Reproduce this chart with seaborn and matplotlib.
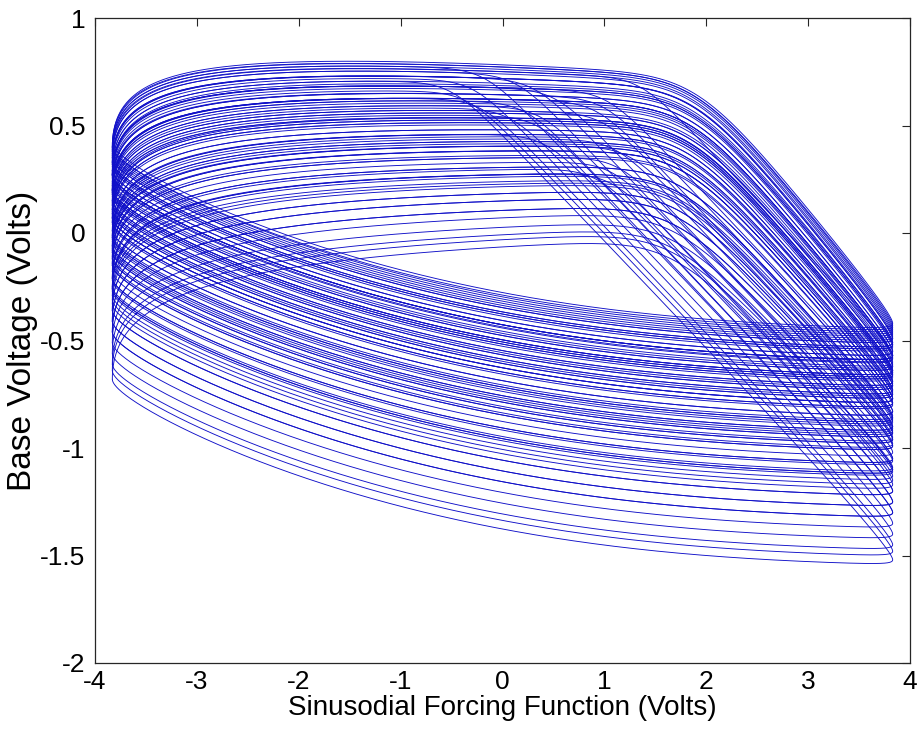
import numpy as np
import pandas as pd
import matplotlib
matplotlib.use("Agg")
import matplotlib.pyplot as plt
import seaborn as sns
from matplotlib.ticker import FormatStrFormatter

# Peak of the sinusoidal forcing (volts)
AMPLITUDE = 3.83

# One entry per forcing period: base voltage where the rising sweep starts
# (left end), level of its upper plateau, forcing value where the plateau
# breaks down, and base voltage reached at the right end of the sweep.
LEFT_START = [0.38, -0.46, -0.15, -0.21, 0.01, 0.15, -0.36, -0.09, -0.11, 0.07,
              0.19, -0.61, -0.25, -0.31, -0.06, 0.11, 0.22, -0.01, 0.14, -0.51,
              -0.18, -0.26, -0.02, 0.13, 0.23, 0.29, -0.68, -0.29, -0.04, -0.14,
              0.05, 0.18, -0.41, -0.12, 0.07, 0.20, 0.27, 0.04, 0.17, 0.255,
              0.31, -0.56, -0.22, -0.36, -0.09, 0.09, 0.20, -0.06, 0.11, 0.22,
              0.29, 0.33, -0.26, -0.02, -0.46, -0.15, 0.05, 0.18, 0.26, -0.21,
              0.01, 0.15, 0.24, -0.64, -0.27, -0.03, 0.13, -0.08, 0.09, 0.20,
              0.27, 0.32, 0.35, -0.33, -0.07, 0.10, -0.41, -0.12, 0.07, 0.19,
              0.27, 0.32, 0.35, 0.37, 0.27, 0.33, 0.36, 0.38, 0.39, 0.40,
              0.40]
PLATEAU = [0.77, 0.17, 0.39, 0.35, 0.51, 0.61, 0.24, 0.44, 0.42, 0.55,
           0.64, 0.07, 0.32, 0.28, 0.46, 0.58, 0.66, 0.49, 0.60, 0.14,
           0.37, 0.32, 0.49, 0.59, 0.66, 0.71, 0.02, 0.29, 0.47, 0.40,
           0.54, 0.63, 0.21, 0.42, 0.56, 0.64, 0.69, 0.53, 0.62, 0.68,
           0.72, 0.10, 0.34, 0.24, 0.44, 0.56, 0.64, 0.46, 0.58, 0.66,
           0.71, 0.73, 0.32, 0.49, 0.17, 0.39, 0.54, 0.63, 0.69, 0.35,
           0.51, 0.61, 0.67, 0.05, 0.31, 0.48, 0.59, 0.44, 0.56, 0.64,
           0.69, 0.73, 0.75, 0.27, 0.45, 0.57, 0.21, 0.42, 0.55, 0.64,
           0.69, 0.73, 0.75, 0.76, 0.70, 0.73, 0.76, 0.77, 0.78, 0.78,
           0.79]
KNEE_X = [-0.18, 1.68, 1.13, 1.74, 1.80, 0.37, 1.71, 1.24, 1.77, 1.81,
          -0.21, 1.64, 1.06, 1.72, 1.78, 1.82, 0.99, 1.79, 0.07, 1.67,
          1.06, 1.73, 1.79, 1.83, 1.85, -0.51, 1.63, 1.72, 1.10, 1.76,
          1.81, 0.22, 1.69, 1.77, 1.81, 1.84, 1.02, 1.80, 1.84, 1.86,
          -0.29, 1.66, 0.91, 1.71, 1.77, 1.82, 0.92, 1.78, 1.82, 1.85,
          1.87, 0.31, 1.73, 0.41, 1.68, 1.76, 1.81, 1.84, 0.52, 1.74,
          1.80, 1.83, -0.35, 1.64, 1.73, 1.79, 0.98, 1.77, 1.82, 1.84,
          1.86, 1.87, 0.13, 1.71, 1.78, 0.34, 1.69, 1.77, 1.81, 1.84,
          1.86, 1.87, 1.88, 1.35, 1.86, 1.88, 1.88, 1.89, 1.89, 1.89,
          1.90]
RIGHT_END = [-1.30, -0.99, -1.05, -0.83, -0.69, -1.20, -0.93, -0.95, -0.77, -0.65,
             -1.45, -1.09, -1.15, -0.90, -0.73, -0.62, -0.85, -0.70, -1.35, -1.02,
             -1.10, -0.86, -0.71, -0.61, -0.55, -1.52, -1.13, -0.88, -0.98, -0.79,
             -0.66, -1.25, -0.96, -0.77, -0.64, -0.57, -0.80, -0.67, -0.585, -0.53,
             -1.40, -1.06, -1.20, -0.93, -0.75, -0.64, -0.90, -0.73, -0.62, -0.55,
             -0.51, -1.10, -0.86, -1.30, -0.99, -0.79, -0.66, -0.58, -1.05, -0.83,
             -0.69, -0.60, -1.48, -1.11, -0.87, -0.71, -0.92, -0.75, -0.64, -0.57,
             -0.52, -0.49, -1.17, -0.91, -0.74, -1.25, -0.96, -0.77, -0.65, -0.57,
             -0.52, -0.49, -0.47, -0.57, -0.51, -0.48, -0.46, -0.45, -0.44, -0.43,
             -0.42]
FINAL_LEFT = 0.42

X_TICKS = [-4, -3, -2, -1, 0, 1, 2, 3, 4]
Y_TICKS = [-2, -1.5, -1, -0.5, 0, 0.5, 1]

N = 700


def rising_sweep(y_left, plateau, knee, y_right):
    th = np.linspace(0.0, np.pi, N)
    x = -AMPLITUDE * np.cos(th)
    level = plateau * (1.1 - 0.038 * (x + 2.2))
    tau = 0.75 - 0.28 * plateau
    y = level - (level - y_left) * np.exp(-th / tau)
    lam = 0.08
    width = 0.28 if knee > 1.5 else 0.15
    xi = x + lam * AMPLITUDE * th
    th_k = np.arccos(-knee / AMPLITUDE)
    xi_k = knee + lam * AMPLITUDE * th_k
    g = width * np.logaddexp(0.0, (xi - xi_k) / width)
    y = y - (y[-1] - y_right) * g / g[-1]
    speed = (y[-2] - y[-1]) / (th[-1] - th[-2])
    return x, y, speed


def falling_sweep(y_right, y_next, speed):
    ph = np.linspace(0.0, np.pi, N)
    x = AMPLITUDE * np.cos(ph)
    t = (1.0 - np.cos(ph)) / 2.0
    q = 0.75 * t ** 2.4 + 0.25 * (ph / np.pi) ** 3
    y = y_right + (y_next - y_right) * q - speed * ph * np.exp(-ph / 0.35)
    return x, y


frames = []
for i in range(len(PLATEAU)):
    y_next = LEFT_START[i + 1] if i + 1 < len(LEFT_START) else FINAL_LEFT
    xu, yu, v = rising_sweep(LEFT_START[i], PLATEAU[i], KNEE_X[i], RIGHT_END[i])
    xl, yl = falling_sweep(RIGHT_END[i], y_next, v)
    frames.append(pd.DataFrame({
        "forcing": np.concatenate([xu, xl[1:]]),
        "base": np.concatenate([yu, yl[1:]]),
        "period": i,
    }))
trace = pd.concat(frames, ignore_index=True)

sns.set_theme(style="white")
plt.rcParams["font.family"] = ["Liberation Sans", "DejaVu Sans"]
plt.rcParams["axes.unicode_minus"] = False

fig = plt.figure(figsize=(9.2, 7.29), dpi=100)
ax = fig.add_axes([95 / 920, 66 / 729, 815 / 920, 645 / 729])

sns.lineplot(data=trace, x="forcing", y="base", units="period", estimator=None,
             sort=False, color="#1010c8", linewidth=0.65, ax=ax, legend=False)

ax.set_xlim(-4, 4)
ax.set_ylim(-2, 1)
ax.set_xticks(X_TICKS)
ax.set_yticks(Y_TICKS)
ax.xaxis.set_major_formatter(FormatStrFormatter("%g"))
ax.yaxis.set_major_formatter(FormatStrFormatter("%g"))
ax.tick_params(direction="in", length=6, width=0.8, color="#262626",
               top=True, right=True, labelsize=19, labelcolor="black")
ax.tick_params(axis="y", pad=7)
ax.tick_params(axis="x", pad=5)
for s in ax.spines.values():
    s.set_color("#262626")
    s.set_linewidth(0.9)

ax.set_xlabel("Sinusodial Forcing Function (Volts)", fontsize=20, color="black")
ax.set_ylabel("Base Voltage (Volts)", fontsize=24, color="black")
ax.xaxis.set_label_coords(0.5, -0.05)
ax.yaxis.set_label_coords(-0.07, 0.5)

fig.savefig("out.png", dpi=100, facecolor="white")
